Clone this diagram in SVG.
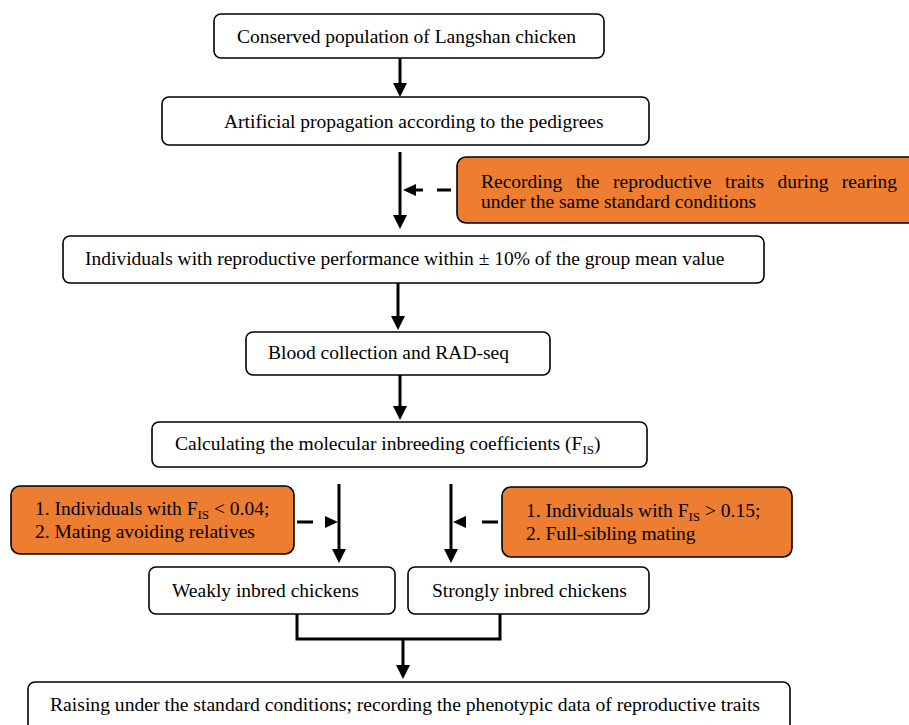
<svg xmlns="http://www.w3.org/2000/svg" width="909" height="725" viewBox="0 0 909 725">
<style>
.box{fill:#fff;stroke:#000;stroke-width:1.6}
.obox{fill:#ED7D31;stroke:#000;stroke-width:1.6}
.t{font-family:"Liberation Serif","Times New Roman",serif;font-size:19.5px;fill:#000}
.sub{font-size:13px}
.ln{stroke:#000;stroke-width:3;fill:none}
.ah{fill:#000;stroke:none}
</style>
<rect width="909" height="725" fill="#fff"/>
<g id="n1"><rect class="box" x="214" y="14" width="390" height="44" rx="7"/><text class="t" x="237" y="43">Conserved population of Langshan chicken</text></g>
<g id="n2"><rect class="box" x="162" y="97" width="487" height="48" rx="7"/><text class="t" x="224" y="128">Artificial propagation according to the pedigrees</text></g>
<g id="n3"><rect class="obox" x="457" y="157" width="460" height="66" rx="9"/><text class="t" x="481" y="188" word-spacing="8.6">Recording the reproductive traits during rearing</text><text class="t" x="481" y="208">under the same standard conditions</text></g>
<g id="n4"><rect class="box" x="63" y="236" width="701" height="47" rx="7"/><text class="t" x="85" y="265">Individuals with reproductive performance within ± 10% of the group mean value</text></g>
<g id="n5"><rect class="box" x="246" y="332" width="304" height="43" rx="7"/><text class="t" x="268" y="359">Blood collection and RAD-seq</text></g>
<g id="n6"><rect class="box" x="152" y="422" width="495" height="45" rx="7"/><text class="t" x="175" y="450">Calculating the molecular inbreeding coefficients (F<tspan class="sub" dy="4">IS</tspan><tspan dy="-4">)</tspan></text></g>
<g id="n7"><rect class="obox" x="11" y="486" width="283" height="68" rx="9"/><text class="t" x="35" y="515">1. Individuals with F<tspan class="sub" dy="4">IS</tspan><tspan dy="-4"> &lt; 0.04;</tspan></text><text class="t" x="35" y="538">2. Mating avoiding relatives</text></g>
<g id="n8"><rect class="obox" x="502" y="487" width="290" height="70" rx="9"/><text class="t" x="526" y="517">1. Individuals with F<tspan class="sub" dy="4">IS</tspan><tspan dy="-4"> &gt; 0.15;</tspan></text><text class="t" x="526" y="540">2. Full-sibling mating</text></g>
<g id="n9"><rect class="box" x="149" y="567" width="246" height="47" rx="7"/><text class="t" x="172" y="597">Weakly inbred chickens</text></g>
<g id="n10"><rect class="box" x="408" y="567" width="241" height="47" rx="7"/><text class="t" x="432" y="597">Strongly inbred chickens</text></g>
<g id="n11"><rect class="box" x="28" y="682" width="762" height="50" rx="7"/><text class="t" x="50" y="711" textLength="710" lengthAdjust="spacingAndGlyphs">Raising under the standard conditions; recording the phenotypic data of reproductive traits</text></g>
<g id="connectors">
<line class="ln" x1="400" y1="58" x2="400" y2="84"/><polygon class="ah" points="393,83 407,83 400,97"/>
<line class="ln" x1="400" y1="152" x2="400" y2="216"/><polygon class="ah" points="393,215 407,215 400,229"/>
<line class="ln" x1="437" y1="190" x2="451" y2="190"/><line class="ln" x1="414" y1="190" x2="423" y2="190"/><polygon class="ah" points="403,190 416,184 416,196"/>
<line class="ln" x1="398" y1="283" x2="398" y2="317"/><polygon class="ah" points="391,316 405,316 398,330"/>
<line class="ln" x1="400" y1="375" x2="400" y2="407"/><polygon class="ah" points="393,406 407,406 400,420"/>
<line class="ln" x1="339" y1="484" x2="339" y2="550"/><polygon class="ah" points="332,549 346,549 339,563"/>
<line class="ln" x1="297" y1="522" x2="313" y2="522"/><polygon class="ah" points="338,522 325,516 325,528"/>
<line class="ln" x1="451" y1="484" x2="451" y2="550"/><polygon class="ah" points="444,549 458,549 451,563"/>
<line class="ln" x1="482" y1="522" x2="498" y2="522"/><polygon class="ah" points="453,522 466,516 466,528"/>
<polyline class="ln" points="297,614 297,639 500,639 500,614"/>
<line class="ln" x1="403" y1="639" x2="403" y2="666"/><polygon class="ah" points="396,665 410,665 403,679"/>
</g>
</svg>
